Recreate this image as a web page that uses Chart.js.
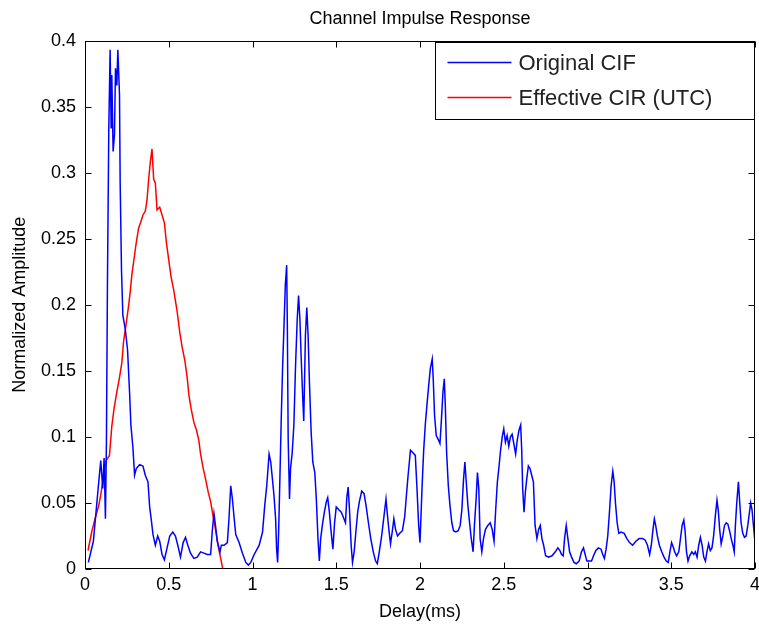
<!DOCTYPE html>
<html>
<head>
<meta charset="utf-8">
<script src="https://cdn.jsdelivr.net/npm/chart.js@4"></script>
<style>
  html, body { margin: 0; padding: 0; background: #fff; }
</style>
</head>
<body>
<canvas id="chart" width="759" height="629"></canvas>
<script>
// values
var origDelay = [0.02,0.05,0.08,0.094,0.106,0.114,0.122,0.128,0.134,0.142,0.15,0.156,0.16,0.168,0.176,0.182,0.19,0.196,0.206,0.21,
  0.218,0.226,0.24,0.254,0.266,0.274,0.286,0.296,0.306,0.326,0.346,0.36,0.376,0.386,0.396,0.406,0.42,0.434,0.446,0.46,
  0.474,0.49,0.506,0.524,0.54,0.554,0.57,0.586,0.6,0.614,0.63,0.65,0.67,0.69,0.71,0.73,0.75,0.76,0.77,0.78,
  0.79,0.806,0.814,0.83,0.85,0.86,0.87,0.88,0.89,0.9,0.92,0.94,0.96,0.975,0.99,1.01,1.04,1.06,1.073,1.085,
  1.099,1.109,1.119,1.128,1.138,1.144,1.15,1.156,1.164,1.172,1.18,1.188,1.196,1.204,1.208,1.213,1.221,1.227,1.237,1.247,
  1.257,1.267,1.275,1.283,1.29,1.3,1.306,1.316,1.324,1.332,1.34,1.35,1.36,1.372,1.381,1.391,1.399,1.407,1.417,1.429,
  1.441,1.449,1.459,1.468,1.48,1.49,1.5,1.514,1.53,1.543,1.555,1.563,1.571,1.579,1.589,1.597,1.607,1.617,1.628,1.638,
  1.652,1.666,1.678,1.692,1.706,1.721,1.735,1.745,1.757,1.771,1.785,1.797,1.804,1.814,1.824,1.834,1.844,1.854,1.866,1.879,
  1.895,1.909,1.919,1.929,1.943,1.958,1.972,1.982,1.992,2.0,2.012,2.022,2.032,2.042,2.052,2.062,2.073,2.079,2.087,2.097,
  2.109,2.119,2.127,2.137,2.145,2.151,2.159,2.169,2.179,2.19,2.2,2.214,2.228,2.24,2.25,2.26,2.268,2.276,2.286,2.296,
  2.306,2.317,2.325,2.335,2.343,2.351,2.359,2.369,2.379,2.391,2.405,2.419,2.431,2.442,2.452,2.462,2.472,2.482,2.492,2.5,
  2.51,2.52,2.53,2.54,2.55,2.56,2.571,2.581,2.591,2.601,2.607,2.613,2.621,2.629,2.637,2.647,2.657,2.667,2.677,2.687,
  2.698,2.708,2.718,2.728,2.738,2.75,2.768,2.788,2.808,2.823,2.835,2.845,2.855,2.863,2.873,2.883,2.893,2.905,2.919,2.933,
  2.95,2.964,2.976,2.986,2.996,3.01,3.024,3.036,3.05,3.065,3.081,3.091,3.101,3.111,3.121,3.131,3.141,3.151,3.159,3.167,
  3.177,3.187,3.2,3.219,3.235,3.251,3.269,3.289,3.308,3.328,3.344,3.358,3.371,3.381,3.391,3.399,3.407,3.417,3.429,3.443,
  3.457,3.47,3.482,3.492,3.502,3.514,3.52,3.532,3.545,3.555,3.565,3.575,3.583,3.591,3.6,3.61,3.623,3.634,3.644,3.654,
  3.664,3.674,3.684,3.694,3.704,3.713,3.723,3.733,3.743,3.753,3.763,3.773,3.781,3.789,3.798,3.808,3.818,3.828,3.838,3.848,
  3.858,3.868,3.876,3.883,3.891,3.901,3.909,3.917,3.927,3.937,3.947,3.957,3.967,3.974,3.982,3.99,3.998];
var origAmp = [0.005,0.021,0.063,0.082,0.061,0.084,0.038,0.097,0.216,0.333,0.393,0.334,0.374,0.316,0.329,0.379,0.366,0.393,0.359,0.292,
  0.226,0.192,0.182,0.166,0.134,0.109,0.092,0.071,0.076,0.079,0.078,0.071,0.066,0.047,0.037,0.026,0.018,0.025,0.021,0.011,
  0.007,0.016,0.025,0.028,0.025,0.018,0.009,0.02,0.024,0.018,0.012,0.008,0.009,0.013,0.012,0.011,0.011,0.029,0.042,0.032,
  0.021,0.013,0.018,0.018,0.02,0.039,0.063,0.053,0.039,0.026,0.02,0.012,0.005,0.003,0.005,0.011,0.018,0.028,0.048,0.063,
  0.087,0.081,0.068,0.056,0.038,0.015,0.005,0.028,0.071,0.116,0.154,0.184,0.215,0.23,0.184,0.098,0.053,0.076,0.088,0.109,
  0.154,0.189,0.207,0.189,0.162,0.129,0.112,0.177,0.198,0.177,0.141,0.104,0.081,0.073,0.053,0.023,0.006,0.023,0.033,0.043,
  0.051,0.054,0.043,0.03,0.015,0.035,0.047,0.045,0.043,0.039,0.035,0.054,0.062,0.045,0.018,0.005,0.013,0.028,0.043,0.051,
  0.059,0.057,0.048,0.035,0.023,0.013,0.006,0.004,0.013,0.025,0.04,0.053,0.043,0.03,0.019,0.028,0.038,0.03,0.025,0.027,
  0.029,0.04,0.056,0.071,0.09,0.088,0.086,0.061,0.033,0.02,0.061,0.09,0.11,0.125,0.139,0.152,0.159,0.144,0.116,0.101,
  0.098,0.095,0.111,0.134,0.144,0.124,0.088,0.063,0.048,0.035,0.029,0.028,0.029,0.033,0.045,0.068,0.081,0.066,0.048,0.035,
  0.023,0.013,0.033,0.053,0.073,0.061,0.023,0.013,0.023,0.03,0.033,0.035,0.03,0.021,0.045,0.066,0.078,0.091,0.101,0.106,
  0.096,0.101,0.093,0.1,0.102,0.095,0.087,0.098,0.105,0.109,0.091,0.061,0.043,0.058,0.068,0.078,0.076,0.071,0.066,0.033,
  0.023,0.03,0.033,0.023,0.018,0.01,0.009,0.01,0.013,0.016,0.014,0.011,0.01,0.023,0.033,0.023,0.013,0.009,0.005,0.004,
  0.006,0.013,0.016,0.011,0.006,0.006,0.006,0.01,0.014,0.016,0.015,0.011,0.008,0.015,0.025,0.043,0.063,0.074,0.066,0.05,
  0.035,0.027,0.028,0.027,0.023,0.02,0.018,0.021,0.023,0.023,0.022,0.018,0.011,0.018,0.03,0.038,0.033,0.025,0.018,0.013,
  0.009,0.006,0.005,0.013,0.02,0.016,0.013,0.01,0.013,0.023,0.033,0.037,0.028,0.013,0.006,0.01,0.013,0.011,0.013,0.009,
  0.018,0.024,0.018,0.009,0.006,0.013,0.019,0.014,0.016,0.025,0.04,0.052,0.044,0.03,0.019,0.025,0.033,0.035,0.034,0.029,
  0.023,0.018,0.013,0.033,0.05,0.066,0.05,0.035,0.027,0.024,0.025,0.033,0.043,0.05,0.045,0.034,0.023];

var effDelay = [0.018,0.04,0.06,0.08,0.094,0.11,0.126,0.146,0.16,0.174,0.19,0.206,0.22,0.23,0.246,0.26,0.27,0.28,0.294,0.306,
  0.32,0.334,0.346,0.36,0.37,0.38,0.39,0.4,0.41,0.42,0.43,0.446,0.46,0.474,0.486,0.5,0.514,0.53,0.55,0.566,
  0.58,0.596,0.61,0.62,0.634,0.65,0.666,0.68,0.69,0.706,0.72,0.736,0.75,0.766,0.78,0.794,0.81,0.826,0.84];
var effAmp = [0.014,0.028,0.038,0.047,0.056,0.07,0.082,0.086,0.108,0.122,0.134,0.145,0.156,0.172,0.186,0.199,0.21,0.223,0.236,0.247,
  0.258,0.263,0.268,0.271,0.279,0.295,0.308,0.318,0.295,0.292,0.272,0.274,0.268,0.262,0.247,0.234,0.221,0.211,0.195,0.179,
  0.168,0.158,0.145,0.132,0.121,0.111,0.105,0.097,0.087,0.076,0.068,0.058,0.051,0.039,0.029,0.018,0.008,-0.002,-0.01];

var seriesNames = ['Original CIF', 'Effective CIR (UTC)'];
var xTickLabels = ['0','0.5','1','1.5','2','2.5','3','3.5','4'];
var yTickLabels = ['0','0.05','0.1','0.15','0.2','0.25','0.3','0.35','0.4'];

var fontFamily = '"Liberation Sans", Arial, Helvetica, sans-serif';

function toPoints(xs, ys) {
  return xs.map(function (x, i) { return {x: x, y: ys[i]}; });
}

// matlab style box: frame, ticks pointing inwards, legend inside top right
var boxPlugin = {
  id: 'matlabBox',
  afterDraw: function (chart) {
    var ctx = chart.ctx;
    var a = chart.chartArea;
    var xs = chart.scales.x, ys = chart.scales.y;
    var L = Math.round(a.left) + 0.5, R = Math.round(a.right) - 0.5;
    var T = Math.round(a.top) + 0.5, B = Math.round(a.bottom) - 0.5;
    var tl = 6;
    ctx.save();
    ctx.strokeStyle = '#000';
    ctx.lineWidth = 1;
    ctx.beginPath();
    xs.ticks.forEach(function (t) {
      var px = Math.round(xs.getPixelForValue(t.value)) + 0.5;
      ctx.moveTo(px, B); ctx.lineTo(px, B - tl);
      ctx.moveTo(px, T); ctx.lineTo(px, T + tl);
    });
    ys.ticks.forEach(function (t) {
      var py = Math.round(ys.getPixelForValue(t.value)) + 0.5;
      ctx.moveTo(L, py); ctx.lineTo(L + tl, py);
      ctx.moveTo(R, py); ctx.lineTo(R - tl, py);
    });
    ctx.stroke();
    ctx.strokeRect(L, T, R - L, B - T);

    // legend
    var lx = R - 319, ly = T + 1, lw = 319, lh = 77;
    ctx.fillStyle = '#fff';
    ctx.fillRect(lx, ly, lw, lh);
    ctx.strokeRect(lx, ly, lw, lh);
    ctx.font = '22px ' + fontFamily;
    ctx.textBaseline = 'middle';
    ctx.textAlign = 'left';
    chart.data.datasets.forEach(function (ds, i) {
      var yy = ly + 20 + i * 35;
      ctx.strokeStyle = ds.borderColor;
      ctx.lineWidth = 1.5;
      ctx.beginPath();
      ctx.moveTo(lx + 12, yy); ctx.lineTo(lx + 76, yy);
      ctx.stroke();
      ctx.fillStyle = '#222';
      ctx.fillText(ds.label, lx + 83, yy + 1);
    });
    ctx.restore();
  }
};

var chart = new Chart('chart', {
  type: 'line',
  data: {
    datasets: [
      {
        label: seriesNames[0],
        data: toPoints(origDelay, origAmp),
        borderColor: '#0000ff',
        borderWidth: 1.5,
        pointRadius: 0,
        tension: 0,
        fill: false
      },
      {
        label: seriesNames[1],
        data: toPoints(effDelay, effAmp),
        borderColor: '#ff0000',
        borderWidth: 1.5,
        pointRadius: 0,
        tension: 0,
        fill: false
      }
    ]
  },
  options: {
    responsive: false,
    animation: false,
    layout: { padding: { left: 0, right: 4, top: 0, bottom: 0 } },
    plugins: {
      legend: { display: false },
      tooltip: { enabled: false },
      title: {
        display: true,
        fullSize: false,
        text: 'Channel Impulse Response',
        color: '#000',
        font: { family: fontFamily, size: 18, weight: 'normal' },
        padding: { top: 8, bottom: 11 }
      }
    },
    scales: {
      x: {
        type: 'linear',
        min: 0,
        max: 4,
        grid: { display: false, drawTicks: false },
        border: { display: false },
        ticks: {
          stepSize: 0.5,
          autoSkip: false,
          maxRotation: 0,
          padding: 5,
          color: '#000',
          font: { family: fontFamily, size: 18 },
          callback: function (v, i) { return xTickLabels[i]; }
        },
        title: {
          display: true,
          text: 'Delay(ms)',
          color: '#000',
          font: { family: fontFamily, size: 18 },
          padding: { top: 0, bottom: 6 }
        },
        afterFit: function (s) {
          s.height = 60;
          s.paddingLeft = 0;
          s.paddingRight = 0;
        }
      },
      y: {
        type: 'linear',
        min: 0,
        max: 0.4,
        grid: { display: false, drawTicks: false },
        border: { display: false },
        ticks: {
          stepSize: 0.05,
          autoSkip: false,
          padding: 9,
          color: '#000',
          font: { family: fontFamily, size: 18 },
          callback: function (v, i) { return yTickLabels[i]; }
        },
        title: {
          display: true,
          text: 'Normalized Amplitude',
          color: '#000',
          font: { family: fontFamily, size: 18 },
          padding: { top: 9, bottom: 0 }
        },
        afterFit: function (s) { s.width = 85; }
      }
    }
  },
  plugins: [boxPlugin]
});
</script>
</body>
</html>
